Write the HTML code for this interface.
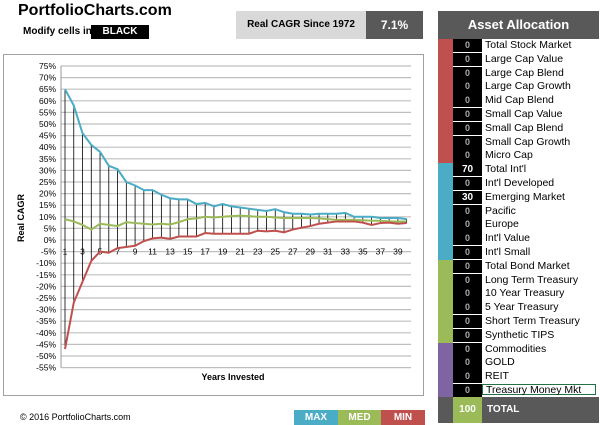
<!DOCTYPE html>
<html><head><meta charset="utf-8"><style>
body{margin:0;width:600px;height:425px;overflow:hidden;background:#fff;font-family:"Liberation Sans",sans-serif;position:relative}
.a{position:absolute}
</style></head><body>
<div class="a" style="left:18px;top:2px;font-size:16px;font-weight:bold;color:#000">PortfolioCharts.com</div>
<div class="a" style="left:23px;top:26px;font-size:10px;font-weight:bold">Modify cells in</div>
<div class="a" style="left:91px;top:25px;width:58px;height:14px;background:#000;color:#fff;font-size:10px;font-weight:bold;text-align:center;line-height:14px">BLACK</div>
<div class="a" style="left:236px;top:11px;width:130px;height:28px;background:#d9d9d9;font-size:10px;font-weight:bold;text-align:center;line-height:28px">Real CAGR Since 1972</div>
<div class="a" style="left:366px;top:11px;width:57px;height:28px;background:#595959;color:#fff;font-size:12px;font-weight:bold;text-align:center;line-height:28px">7.1%</div>
<div class="a" style="left:3px;top:54px;width:419px;height:340px;border:1px solid #a0a0a0"></div>
<svg class="a" style="left:0;top:0" width="600" height="425" id="s"></svg>
<div class="a" style="left:20px;top:412px;font-size:9px">© 2016 PortfolioCharts.com</div>
<div class="a" style="left:294px;top:410px;width:44px;height:15px;background:#4bacc6;color:#fff;font-size:10px;font-weight:bold;text-align:center;line-height:15px">MAX</div>
<div class="a" style="left:338px;top:410px;width:43px;height:15px;background:#9bbb59;color:#fff;font-size:10px;font-weight:bold;text-align:center;line-height:15px">MED</div>
<div class="a" style="left:381px;top:410px;width:44px;height:15px;background:#c0504d;color:#fff;font-size:10px;font-weight:bold;text-align:center;line-height:15px">MIN</div>
<div class="a" style="left:438px;top:11px;width:161px;height:28px;background:#595959;color:#fff;font-size:13px;font-weight:bold;text-align:center;line-height:28px">Asset Allocation</div>
<div id="rows"></div>
<div class="a" style="left:438px;top:397px;width:161px;height:26px;background:#595959"></div>
<div class="a" style="left:453px;top:397px;width:29px;height:26px;background:#9bbb59;color:#fff;font-size:10px;font-weight:bold;text-align:center;line-height:26px">100</div>
<div class="a" style="left:487px;top:397px;color:#fff;font-size:10px;font-weight:bold;line-height:26px">TOTAL</div>
<script>
var s=document.getElementById('s'),h='';
var Y=function(v){return 240-v*2.32},X=function(i){return 65+(i-1)*8.76};
for(var v=75;v>=-55;v-=5){var y=Y(v);h+='<line x1="61" x2="411" y1="'+y+'" y2="'+y+'" stroke="#bfbfbf" stroke-width="1.2"/>';h+='<text x="56" y="'+(y+3)+'" font-size="8.5" text-anchor="end" font-family="Liberation Sans">'+v+'%</text>';}
h+='<line x1="61" x2="61" y1="'+Y(75)+'" y2="'+Y(-55)+'" stroke="#999"/>';
var mx=[65,58,46,41,38,32,30.5,25,23.5,21.5,21.5,19.5,18,17.5,17.5,15.5,16,14.5,15.5,14.5,14,13.5,13,12.5,13.3,12,11.3,11.3,11,11.3,11.3,11.3,11.7,10,10,10,9.5,9.5,9.5,9];
var md=[9,8,6.5,4.5,7,6.5,6,7.7,7.3,7,6.7,7,6.7,7.7,9,9.3,10,9.7,10,10.3,10.5,10.3,10,10,9.7,9.5,9.5,9.5,9.5,9.3,9,8.7,8.7,8.7,8.5,8.3,8.3,8,8,8];
var mn=[-47,-27,-18,-9,-5,-5.5,-3.5,-3,-2.5,-0.5,0.7,1,0.5,1.5,1.5,1.5,3,2.7,2.7,2.7,2.7,2.7,4,3.7,4,3.3,4.5,5.3,6,7,7.5,8,8,8,7.5,6.5,7.3,7.5,7,7.3];
for(var i=1;i<=40;i++){h+='<line x1="'+X(i)+'" x2="'+X(i)+'" y1="'+Y(mx[i-1])+'" y2="'+Y(mn[i-1])+'" stroke="#000" stroke-width="0.8"/>';if(i%2)h+='<text x="'+X(i)+'" y="'+(Y(-5)+3)+'" font-size="8.5" text-anchor="middle" font-family="Liberation Sans">'+i+'</text>';}
function pl(a,c){var p=a.map(function(v,i){return X(i+1)+','+Y(v)}).join(' ');return '<polyline points="'+p+'" fill="none" stroke="'+c+'" stroke-width="2"/>';}
h+=pl(md,'#9bbb59')+pl(mx,'#4bacc6')+pl(mn,'#c0504d');
h+='<text x="233" y="380" font-size="9" font-weight="bold" text-anchor="middle" font-family="Liberation Sans">Years Invested</text>';
h+='<text x="0" y="0" font-size="9" font-weight="bold" text-anchor="middle" font-family="Liberation Sans" transform="translate(24,218) rotate(-90)">Real CAGR</text>';
s.innerHTML=h;
var names=["Total Stock Market","Large Cap Value","Large Cap Blend","Large Cap Growth","Mid Cap Blend","Small Cap Value","Small Cap Blend","Small Cap Growth","Micro Cap","Total Int'l","Int'l Developed","Emerging Market","Pacific","Europe","Int'l Value","Int'l Small","Total Bond Market","Long Term Treasury","10 Year Treasury","5 Year Treasury","Short Term Treasury","Synthetic TIPS","Commodities","GOLD","REIT","Treasury Money Mkt"];
var r='',rh=13.8;
for(var i=0;i<26;i++){var t=39+i*rh;var c=i<9?'#c0504d':i<16?'#4bacc6':i<22?'#9bbb59':'#8064a2';var n=i==9?'70':i==11?'30':'0';var big=n!='0';
r+='<div class="a" style="left:438px;top:'+t+'px;width:15px;height:'+(rh+0.5)+'px;background:'+c+'"></div>';
r+='<div class="a" style="left:453px;top:'+t+'px;width:29px;height:'+(rh-0.5)+'px;background:#000;color:'+(big?'#fff':'#aaa')+';font-size:'+(big?10:9)+'px;font-weight:bold;text-align:center;line-height:'+rh+'px">'+n+'</div>';
r+='<div class="a" style="left:482px;top:'+t+'px;width:'+(i==25?114:117)+'px;height:'+(i==25?rh-3:rh)+'px;font-size:10.5px;line-height:'+rh+'px;padding-left:3px;box-sizing:border-box;'+(i==25?'border:1px solid #217346;line-height:11px;':'')+'">'+names[i]+'</div>';}
document.getElementById('rows').innerHTML=r;
</script>
</body></html>
